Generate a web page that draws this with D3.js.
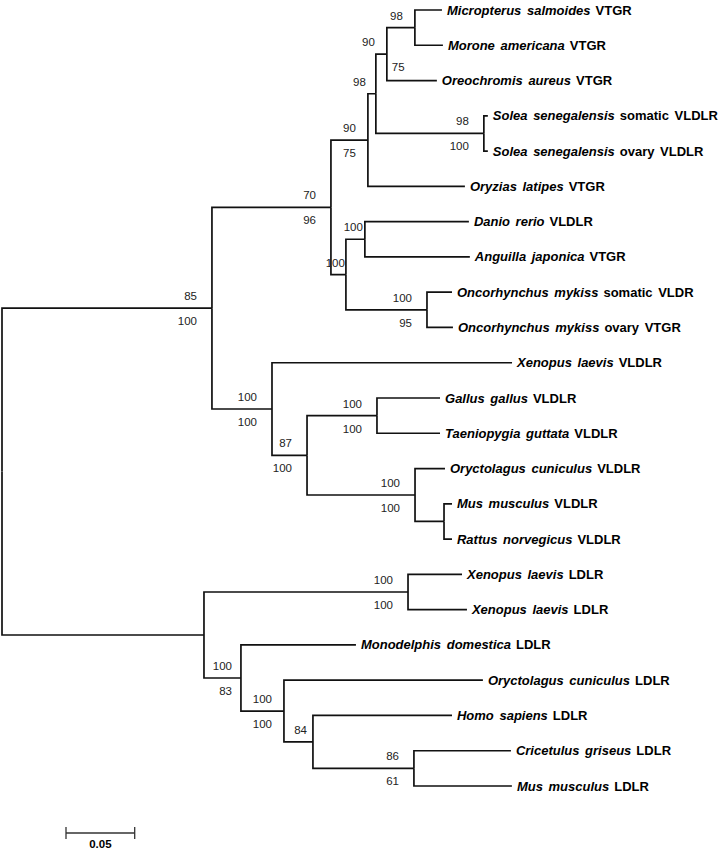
<!DOCTYPE html>
<html lang="en">
<head>
  <meta charset="UTF-8">
  <title>VLDLR / VTGR / LDLR phylogeny</title>
  <script src="https://d3js.org/d3.v7.min.js"></script>
  <style>
    body { margin: 0; background: #fff; }
    svg { display: block; }
  </style>
</head>
<body>
  <svg width="720" height="852"></svg>

  <script>
    // Internal nodes: id, parent, branch length (substitutions/site)
    const nodeIds     = ["root", "A", "B", "D", "E", "F", "G", "SOL", "C", "H", "I",
                         "J", "K", "L", "M", "N", "O", "P", "Q", "R", "S", "T"];
    const nodeParents = ["",     "root", "A", "B", "D", "E", "F", "E", "B", "C", "C",
                         "A", "J", "K", "K", "M", "root", "O", "O", "Q", "R", "S"];
    const nodeLengths = [0, 0.1528, 0.0866, 0.0269, 0.0058, 0.0080, 0.0204, 0.0786, 0.0109, 0.0138, 0.0590,
                         0.0437, 0.0255, 0.0509, 0.0786, 0.0211, 0.1470, 0.1485, 0.0269, 0.0313, 0.0211, 0.0735];

    // Leaves, top to bottom
    const leafSpecies = ["Micropterus salmoides", "Morone americana", "Oreochromis aureus",
                         "Solea senegalensis", "Solea senegalensis", "Oryzias latipes",
                         "Danio rerio", "Anguilla japonica", "Oncorhynchus mykiss", "Oncorhynchus mykiss",
                         "Xenopus laevis", "Gallus gallus", "Taeniopygia guttata",
                         "Oryctolagus cuniculus", "Mus musculus", "Rattus norvegicus",
                         "Xenopus laevis", "Xenopus laevis", "Monodelphis domestica",
                         "Oryctolagus cuniculus", "Homo sapiens", "Cricetulus griseus", "Mus musculus"];
    const leafGenes   = ["VTGR", "VTGR", "VTGR", "somatic VLDLR", "ovary VLDLR", "VTGR",
                         "VLDLR", "VTGR", "somatic VLDR", "ovary VTGR",
                         "VLDLR", "VLDLR", "VLDLR", "VLDLR", "VLDLR", "VLDLR",
                         "LDLR", "LDLR", "LDLR", "LDLR", "LDLR", "LDLR", "LDLR"];
    const leafParents = ["G", "G", "F", "SOL", "SOL", "D", "H", "H", "I", "I",
                         "J", "L", "L", "M", "N", "N", "P", "P", "Q", "R", "S", "T", "T"];
    const leafLengths = [0.0197, 0.0204, 0.0364, 0.0029, 0.0029, 0.0706, 0.0757, 0.0764, 0.0182, 0.0189,
                         0.1747, 0.0459, 0.0459, 0.0218, 0.0058, 0.0058,
                         0.0393, 0.0429, 0.0837, 0.1448, 0.1012, 0.0706, 0.0713];

    // Bootstrap support (upper / lower value, "" when absent)
    const bootNodes = ["A", "B", "D", "E", "F", "G", "SOL", "C", "H", "I",
                       "J", "K", "L", "M", "P", "Q", "R", "S", "T"];
    const bootUpper = ["85", "70", "90", "98", "90", "98", "98", "100", "100", "100",
                       "100", "87", "100", "100", "100", "100", "100", "84", "86"];
    const bootLower = ["100", "96", "75", "", "75", "", "100", "", "", "95",
                       "100", "100", "100", "100", "100", "83", "100", "", "61"];

    const scaleBarValue = 0.05;

    // ---- build the tree
    const rows = nodeIds.map((id, i) => ({ id, parent: nodeParents[i] || null, len: nodeLengths[i] }))
      .concat(leafSpecies.map((s, i) => ({
        id: "leaf" + i, parent: leafParents[i], len: leafLengths[i],
        species: s, gene: leafGenes[i], order: i
      })));

    const root = d3.stratify().id(d => d.id).parentId(d => d.parent)(rows);

    const xScale = d3.scaleLinear().domain([0, 0.05]).range([2, 70.7]);
    const yScale = d3.scaleLinear().domain([0, leafSpecies.length - 1]).range([10, 786]);

    root.eachBefore(n => { n.dist = n.parent ? n.parent.dist + n.data.len : 0; n.px = xScale(n.dist); });
    root.eachAfter(n => {
      if (n.children) {
        const ys = n.children.map(c => c.py);
        n.py = (d3.min(ys) + d3.max(ys)) / 2;
      } else {
        n.py = yScale(n.data.order);
      }
    });

    const svg = d3.select("svg");

    // branches (elbow)
    svg.append("g")
      .selectAll("path")
      .data(root.links())
      .join("path")
      .attr("d", d => `M${d.source.px},${d.source.py}V${d.target.py}H${d.target.px}`)
      .attr("fill", "none")
      .attr("stroke", "#111")
      .attr("stroke-width", 1.7);

    // leaf labels
    const labels = svg.append("g")
      .attr("font-family", "'Liberation Sans', Arial, sans-serif")
      .attr("font-size", 13)
      .attr("font-weight", "bold")
      .attr("fill", "#000")
      .selectAll("text")
      .data(root.leaves())
      .join("text")
      .attr("x", d => d.px + 5)
      .attr("y", d => d.py)
      .attr("dy", "0.35em")
      .attr("word-spacing", 2);
    labels.append("tspan").attr("font-style", "italic").text(d => d.data.species);
    labels.append("tspan").attr("dx", 5).text(d => d.data.gene);

    // bootstrap values, right-aligned just left of the node
    const nodeById = new Map(root.descendants().map(n => [n.id, n]));
    const shift = { E: -10, D: -12, F: -12, G: -12, H: -2, C: -1, Q: -9, S: -6, R: -12 };
    const boot = svg.append("g")
      .attr("font-family", "'Liberation Sans', Arial, sans-serif")
      .attr("font-size", 11.5)
      .attr("fill", "#222");

    bootNodes.forEach((id, i) => {
      const n = nodeById.get(id);
      const xr = n.px + (shift[id] ?? -15);
      boot.append("text").attr("x", xr).attr("y", n.py - 8)
        .attr("text-anchor", "end").text(bootUpper[i]);
      if (bootLower[i]) {
        // the F lower value sits right of its node in the original
        const right = id === "F";
        boot.append("text").attr("x", right ? n.px + 5 : xr).attr("y", n.py + 17)
          .attr("text-anchor", right ? "start" : "end").text(bootLower[i]);
      }
    });

    // scale bar
    const x0 = 66, x1 = x0 + (xScale(scaleBarValue) - xScale(0)), yb = 833;
    const bar = svg.append("g").attr("stroke", "#333").attr("stroke-width", 1.3);
    bar.append("line").attr("x1", x0).attr("x2", x1).attr("y1", yb).attr("y2", yb);
    bar.append("line").attr("x1", x0).attr("x2", x0).attr("y1", yb - 6).attr("y2", yb + 6);
    bar.append("line").attr("x1", x1).attr("x2", x1).attr("y1", yb - 6).attr("y2", yb + 6);
    svg.append("text")
      .attr("x", (x0 + x1) / 2).attr("y", 848)
      .attr("text-anchor", "middle")
      .attr("font-family", "'Liberation Sans', Arial, sans-serif")
      .attr("font-size", 11.5).attr("font-weight", "bold")
      .text(String(scaleBarValue));
  </script>
</body>
</html>
